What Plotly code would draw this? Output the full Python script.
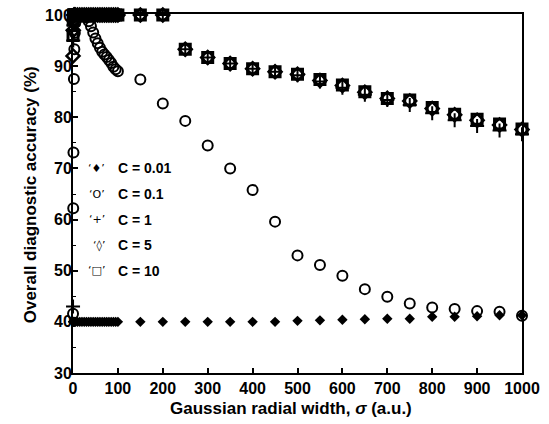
import plotly.graph_objects as go

# ---------------- data ----------------
SIGMA = [0.1, 0.5, 1, 2, 3, 4, 5,
         10, 15, 20, 25, 30, 35, 40, 45, 50, 55, 60, 65, 70, 75, 80, 85, 90, 95, 100,
         150, 200, 250, 300, 350, 400, 450, 500, 550, 600, 650, 700, 750, 800, 850, 900, 950, 1000]

ACC_C001 = [40, 40, 40, 40, 40, 40, 40,
            40, 40, 40, 40, 40, 40, 40, 40, 40, 40, 40, 40, 40, 40, 40, 40, 40, 40, 40,
            40, 40, 40, 40, 40, 40, 40, 40.2, 40.3, 40.4, 40.5, 40.6, 40.6, 41.0, 41.0, 41.1, 41.3, 41.3]

ACC_C01 = [41.6, 62.2, 73.1, 87.5, 93.3, 96.5, 98.5,
           100, 100, 100, 100, 99.5, 98.8, 97.8, 96.6, 95.4, 94.5, 93.6, 92.8, 92.3, 91.8, 91.2, 90.6, 89.9, 89.4, 89.0,
           87.4, 82.7, 79.3, 74.5, 70.0, 65.8, 59.6, 53.0, 51.1, 49.0, 46.4, 44.9, 43.6, 42.8, 42.5, 42.1, 42.0, 41.2]

ACC_C1 = [43.0, 95, 98, 100, 100, 100, 100,
          100, 100, 100, 100, 100, 100, 100, 100, 100, 100, 100, 100, 100, 100, 100, 100, 100, 100, 100,
          100, 100, 93.3, 91.7, 90.5, 89.5, 88.9, 88.2, 87.0, 85.8, 84.4, 83.4, 82.4, 80.8, 79.4, 78.3, 77.4, 76.7]

ACC_C5 = [92.0, 97, 99, 100, 100, 100, 100,
          100, 100, 100, 100, 100, 100, 100, 100, 100, 100, 100, 100, 100, 100, 100, 100, 100, 100, 100,
          100, 100, 93.3, 91.7, 90.5, 89.5, 88.9, 88.4, 87.2, 86.2, 84.9, 83.7, 83.2, 81.7, 80.5, 79.4, 78.5, 77.6]

ACC_C10 = [96.0, 99, 100, 100, 100, 100, 100,
           100, 100, 100, 100, 100, 100, 100, 100, 100, 100, 100, 100, 100, 100, 100, 100, 100, 100, 100,
           100, 100, 93.3, 91.7, 90.5, 89.5, 88.9, 88.4, 87.4, 86.3, 85.0, 83.7, 83.4, 81.9, 80.6, 79.6, 78.7, 77.7]

LEGEND_SYMBOLS = ["‘♦’", "‘O’", "‘+’", "‘◊’", "‘□’"]
LEGEND_LABELS = ["C = 0.01", "C = 0.1", "C = 1", "C = 5", "C = 10"]
LEGEND_Y = [70, 65, 60, 55, 50]

X_TICKS = [0, 100, 200, 300, 400, 500, 600, 700, 800, 900, 1000]
Y_TICKS = [30, 40, 50, 60, 70, 80, 90, 100]

X_TITLE = "Gaussian radial width, <i>σ</i> (a.u.)"
Y_TITLE = "Overall diagnostic accuracy (%)"

FONT = "Liberation Sans, Arial, sans-serif"
SYM_FONT = "DejaVu Sans, Liberation Sans, sans-serif"

fig = go.Figure()

def add(y, symbol, size, lw):
    fig.add_trace(go.Scatter(
        x=SIGMA, y=y, mode="markers", cliponaxis=False, showlegend=False,
        marker=dict(symbol=symbol, size=size, color="black",
                    line=dict(color="black", width=lw))))

add(ACC_C001, "diamond", 8, 0)
add(ACC_C01, "circle-open", 10, 2)
add(ACC_C1, "cross-thin-open", 10, 2)
add(ACC_C5, "diamond-open", 10, 2.5)
add(ACC_C10, "square-open", 10, 3)

for sym, lab, yy in zip(LEGEND_SYMBOLS, LEGEND_LABELS, LEGEND_Y):
    fig.add_annotation(x=76, y=yy, xref="x", yref="y", text=sym, showarrow=False,
                       xanchor="right", yanchor="middle",
                       font=dict(family=SYM_FONT, size=11, color="black"))
    fig.add_annotation(x=96, y=yy, xref="x", yref="y", text="<b>" + lab + "</b>", showarrow=False,
                       xanchor="left", yanchor="middle",
                       font=dict(family=FONT, size=14, color="black"))

# axis titles
fig.add_annotation(x=0.485, y=0, xref="paper", yref="paper", yshift=-35,
                   text="<b>" + X_TITLE + "</b>", showarrow=False,
                   xanchor="center", yanchor="middle",
                   font=dict(family=FONT, size=17, color="black"))
fig.add_annotation(x=0, y=0.495, xref="paper", yref="paper", xshift=-43,
                   text="<b>" + Y_TITLE + "</b>", showarrow=False, textangle=-90,
                   xanchor="center", yanchor="middle",
                   font=dict(family=FONT, size=17, color="black"))

fig.update_layout(
    width=549, height=424,
    margin=dict(l=73, r=27, t=14, b=51),
    paper_bgcolor="white", plot_bgcolor="white",
    font=dict(family=FONT, color="black"),
)
fig.update_xaxes(
    range=[0, 1000], tickvals=X_TICKS, ticktext=["<b>%d</b>" % v for v in X_TICKS],
    ticks="inside", ticklen=5, tickwidth=1.5, tickcolor="black",
    showline=True, linecolor="black", linewidth=2, mirror=True, automargin=False,
    showgrid=False, zeroline=False, tickfont=dict(size=16, family=FONT),
)
fig.update_yaxes(
    range=[30, 100.2], tickvals=Y_TICKS, ticktext=["<b>%d</b>" % v for v in Y_TICKS],
    ticks="inside", ticklen=5, tickwidth=1.5, tickcolor="black",
    minor=dict(dtick=5, ticks="inside", ticklen=3, tickcolor="black", tickwidth=1.2),
    showline=True, linecolor="black", linewidth=2, mirror=True, automargin=False,
    showgrid=False, zeroline=False, tickfont=dict(size=16, family=FONT),
    ticklabelstandoff=-4,
)

fig.write_html("out.html")
